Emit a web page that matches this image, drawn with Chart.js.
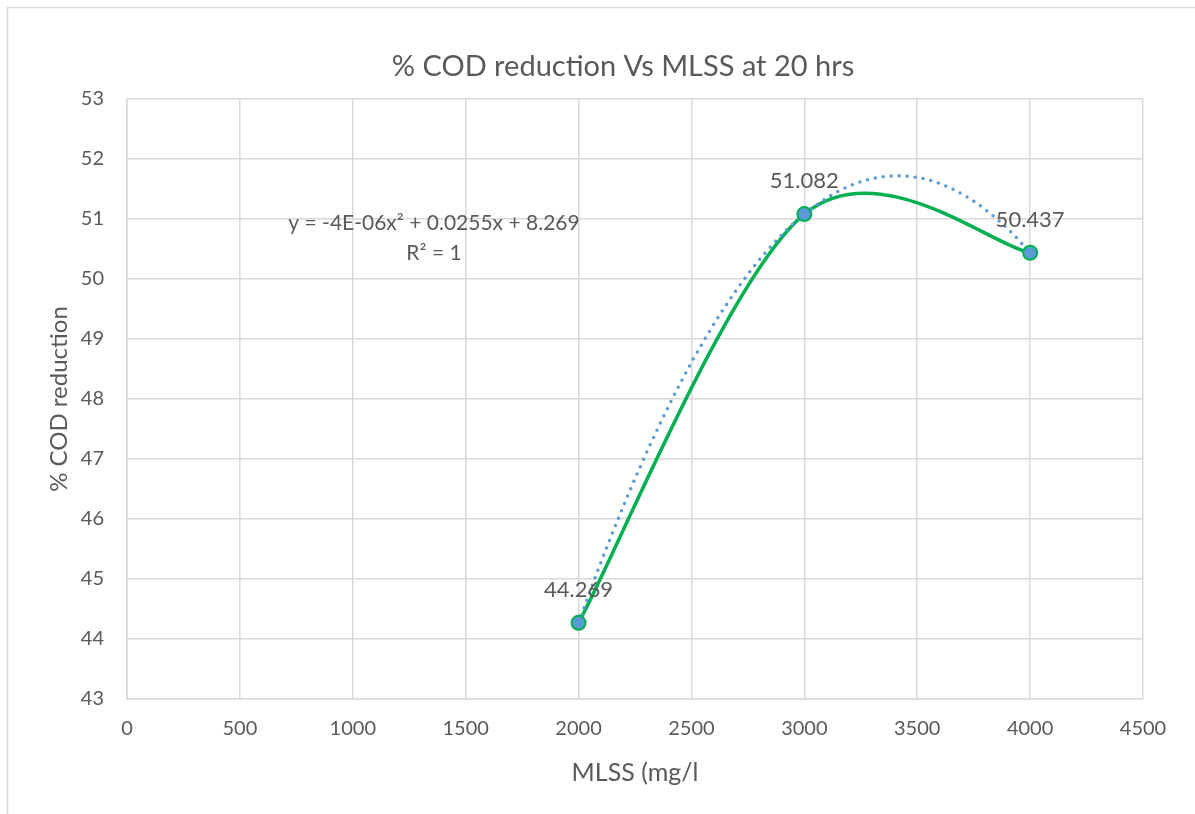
<!DOCTYPE html>
<html>
<head>
<meta charset="utf-8">
<script src="https://cdn.jsdelivr.net/npm/chart.js@4/dist/chart.umd.min.js"></script>
<style>
  html, body { margin: 0; padding: 0; background: #ffffff; }
  #wrap { position: relative; width: 1195px; height: 814px; }
  canvas { display: block; }
</style>
</head>
<body>
<div id="wrap"><canvas id="c" width="1195" height="814"></canvas></div>
<script>
// ---- data ----
const mlss = [2000, 3000, 4000];
const codReduction = [44.269, 51.082, 50.437];
const dataLabels = ['44.269', '51.082', '50.437'];
const chartTitle = '% COD reduction Vs MLSS at 20 hrs';
const xAxisTitle = 'MLSS (mg/l';
const yAxisTitle = '% COD reduction';
const trendEquation = 'y = -4E-06x\u00B2 + 0.0255x + 8.269';
const trendR2 = 'R\u00B2 = 1';

const FONT = 'Lato, "Open Sans", sans-serif';
const TXT = '#595959';
const GRID = '#d9d9d9';
const GREEN = '#00b050';
const BLUE = '#5b9bd5';

const points = mlss.map((x, i) => ({ x: x, y: codReduction[i] }));

// least-squares quadratic fit (Excel polynomial trendline, order 2)
function quadFit(xs, ys) {
  let s = [0, 0, 0, 0, 0], t = [0, 0, 0];
  for (let i = 0; i < xs.length; i++) {
    let p = 1;
    for (let k = 0; k < 5; k++) { s[k] += p; if (k < 3) t[k] += p * ys[i]; p *= xs[i]; }
  }
  const A = [[s[0], s[1], s[2], t[0]], [s[1], s[2], s[3], t[1]], [s[2], s[3], s[4], t[2]]];
  for (let c = 0; c < 3; c++) {
    for (let r = c + 1; r < 3; r++) {
      const f = A[r][c] / A[c][c];
      for (let k = c; k < 4; k++) A[r][k] -= f * A[c][k];
    }
  }
  const sol = [0, 0, 0];
  for (let r = 2; r >= 0; r--) {
    let v = A[r][3];
    for (let k = r + 1; k < 3; k++) v -= A[r][k] * sol[k];
    sol[r] = v / A[r][r];
  }
  return sol; // c0 + c1 x + c2 x^2
}
const coef = quadFit(mlss, codReduction);

const framePlugin = {
  id: 'frame',
  beforeDraw(chart) {
    const ctx = chart.ctx;
    ctx.save();
    ctx.strokeStyle = GRID;
    ctx.lineWidth = 1.5;
    ctx.beginPath();
    ctx.moveTo(7.5, 814);
    ctx.lineTo(7.5, 7.5);
    ctx.lineTo(1195, 7.5);
    ctx.stroke();
    ctx.fillStyle = TXT;
    ctx.font = '29px ' + FONT;
    ctx.textAlign = 'center';
    ctx.textBaseline = 'middle';
    ctx.fillText(chartTitle, 623, 67);
    ctx.restore();
  }
};

// Excel-style smoothing: Catmull-Rom control points (1/6 of neighbour chord)
const smoothPlugin = {
  id: 'excelSmooth',
  beforeDatasetDraw(chart, args) {
    if (args.index !== 0) return;
    const line = args.meta.dataset;
    line.updateControlPoints(chart.chartArea, 'x');
    const pts = args.meta.data;
    const n = pts.length;
    for (let i = 0; i < n; i++) {
      const p = pts[i];
      const prev = pts[Math.max(0, i - 1)];
      const next = pts[Math.min(n - 1, i + 1)];
      const dx = (next.x - prev.x) / 6, dy = (next.y - prev.y) / 6;
      p.cp1x = p.x - dx; p.cp1y = p.y - dy;
      p.cp2x = p.x + dx; p.cp2y = p.y + dy;
    }
  }
};

const trendPlugin = {
  id: 'trend',
  afterDatasetDraw(chart, args) {
    if (args.index !== 0) return;
    const xs = chart.scales.x, ys = chart.scales.y, ctx = chart.ctx;
    const x0 = Math.min(...mlss), x1 = Math.max(...mlss);
    ctx.save();
    ctx.strokeStyle = BLUE;
    ctx.lineWidth = 3.5;
    ctx.lineCap = 'round';
    ctx.setLineDash([0, 8]);
    ctx.beginPath();
    const n = 200;
    for (let i = 0; i <= n; i++) {
      const xv = x0 + (x1 - x0) * i / n;
      const yv = coef[0] + coef[1] * xv + coef[2] * xv * xv;
      const px = xs.getPixelForValue(xv), py = ys.getPixelForValue(yv);
      if (i === 0) ctx.moveTo(px, py); else ctx.lineTo(px, py);
    }
    ctx.stroke();
    ctx.restore();
  },
  afterDatasetsDraw(chart) {
    const ctx = chart.ctx;
    const meta = chart.getDatasetMeta(1);
    ctx.save();
    ctx.fillStyle = TXT;
    ctx.font = '22px ' + FONT;
    ctx.textAlign = 'center';
    ctx.textBaseline = 'middle';
    meta.data.forEach((el, i) => {
      ctx.fillText(dataLabels[i], el.x, el.y - 33);
    });
    ctx.font = '21px ' + FONT;
    ctx.fillText(trendEquation, 434, 223);
    ctx.fillText(trendR2, 434, 253);
    ctx.restore();
  }
};

new Chart(document.getElementById('c'), {
  type: 'scatter',
  data: {
    datasets: [
      {
        data: points,
        showLine: true,
        borderColor: GREEN,
        borderWidth: 3.5,
        tension: 0.4,
        capBezierPoints: false,
        pointRadius: 0,
        fill: false,
        order: 2
      },
      {
        data: points,
        showLine: false,
        pointRadius: 7,
        pointBackgroundColor: BLUE,
        pointBorderColor: GREEN,
        pointBorderWidth: 2,
        order: 1
      }
    ]
  },
  options: {
    responsive: false,
    animation: false,
    events: [],
    layout: { padding: { left: 0, top: 99, right: 52, bottom: 0 } },
    plugins: { legend: { display: false }, tooltip: { enabled: false }, title: { display: false } },
    scales: {
      x: {
        type: 'linear',
        min: 0, max: 4500,
        ticks: { stepSize: 500, color: TXT, font: { family: FONT, size: 20 }, padding: 18, maxRotation: 0,
                 callback: (v) => String(v) },
        grid: { color: GRID, lineWidth: 1.5, drawTicks: false },
        border: { color: GRID, width: 1.5 },
        title: { display: true, text: xAxisTitle, color: TXT, font: { family: FONT, size: 25 }, padding: { top: 0, bottom: 26 } },
        afterFit(s) { s.height = 115; }
      },
      y: {
        type: 'linear',
        min: 43, max: 53,
        ticks: { stepSize: 1, color: TXT, font: { family: FONT, size: 20 }, padding: 23, callback: (v) => String(v) },
        grid: { color: GRID, lineWidth: 1.5, drawTicks: false },
        border: { color: GRID, width: 1.5 },
        title: { display: true, text: yAxisTitle, color: TXT, font: { family: FONT, size: 24 }, padding: { top: 45, bottom: 0 } },
        afterFit(s) { s.width = 127; }
      }
    }
  },
  plugins: [framePlugin, smoothPlugin, trendPlugin]
});
</script>
</body>
</html>
